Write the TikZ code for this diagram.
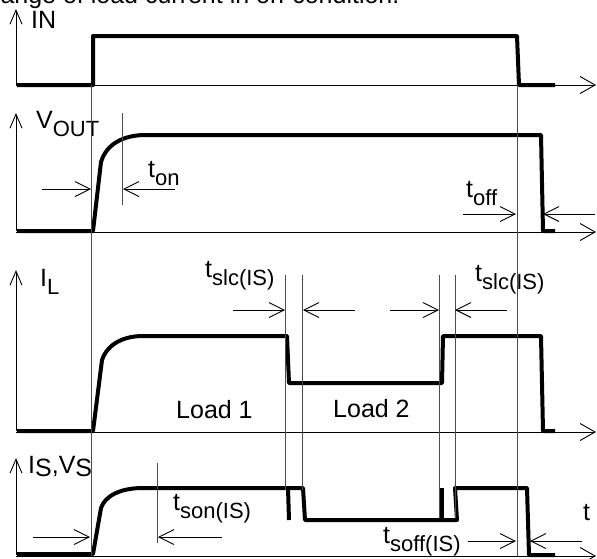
\documentclass[tikz,border=0pt]{standalone}
\usepackage{fontspec}
\setmainfont{Liberation Sans}
\usetikzlibrary{arrows.meta}

\begin{document}
\begin{tikzpicture}[x=1pt,y=-1pt,font=\fontsize{25}{30}\selectfont]
\tikzset{
  signal/.style={black,line width=4pt,line join=round},
  thinline/.style={black!70,line width=0.9pt},
  axis/.style={black,line width=0.9pt,-{Straight Barb[length=15pt,width=17pt]}},
  vaxis/.style={black,line width=0.9pt,-{Straight Barb[length=14pt,width=12pt]}},
  dimarrow/.style={black,line width=0.9pt,-{Straight Barb[length=15pt,width=15pt]}},
  lbl/.style={anchor=base west,inner sep=0pt}
}
% lowered, smaller index text
\newcommand{\sub}[1]{\raisebox{-8pt}{\fontsize{22}{26}\selectfont #1}}
\useasboundingbox (0,0) rectangle (597,558);

% caption line, cut off at the top
\node[lbl] (caption) at (-8,3) {range of load current in on-condition.};

% ------ IN ------
\draw[vaxis] (16,85) -- (16,9);
\node[lbl] (lblIN) at (31,28) {IN};
\draw[axis] (16,85) -- (596,85);
\draw[signal] (17,85) -- (93,85) -- (93,36) -- (517,36) -- (519,85) -- (555,85);

% ------ V_OUT ------
\draw[vaxis] (16,231) -- (16,113);
\node[lbl] (lblVOUT) at (36,128) {V\sub{OUT}};
\draw[axis] (16,232) -- (596,232);
\draw[signal] (17,231) -- (93,231) -- (101,162) .. controls (105,148) and (118,136) .. (143,135)
  -- (541,135) -- (543,231) -- (555,231);

% ------ I_L ------
\draw[vaxis] (16,431) -- (16,270);
\node[lbl] (lblIL) at (40,286) {I\sub{L}};
\draw[axis] (16,432) -- (596,432);
\draw[signal] (17,431) -- (93,431) -- (102,360) .. controls (106,347) and (120,336) .. (143,336)
  -- (287,336) -- (289,383) -- (442,383) -- (443,336) -- (541,336) -- (543,431) -- (555,431);
\node[lbl] (lblloadA) at (176,418) {Load 1};
\node[lbl] (lblloadB) at (333,417) {Load 2};

% ------ I_S, V_S ------
\draw[vaxis] (16,555) -- (16,458);
\node[lbl] (lblIS) at (28,473) {I\raisebox{-3pt}{S},V\raisebox{-3pt}{S}};
\draw[axis] (16,556) -- (596,556);
\draw[signal] (17,554) -- (93,554) -- (101,508) .. controls (105,496) and (120,488) .. (143,488)
  -- (303,488) -- (305,520) -- (457,520) -- (455,488) -- (527,488) -- (529,555) -- (555,555);
\draw[signal] (288,488) -- (289,520);
\draw[signal] (442,520) -- (442,488);
\node[lbl] (lblt) at (583,520) {t};

% ------ time marks ------
\draw[thinline] (91,85) -- (91,556);
\draw[thinline] (517,85) -- (517,556);
\foreach \x/\yend in {285/490, 302/490, 439/518, 455/518}
  \draw[thinline] (\x,275) -- (\x,\yend);
\draw[thinline] (122,113) -- (122,205);
\draw[thinline] (157,463) -- (157,543);

% dimension arrows: from x / to x / y
\foreach \xa/\xb/\y in {42/91/189, 175/123/189, 463/516/214, 595/543/214,
    233/285/310, 355/303/310, 390/439/310, 507/455/310,
    33/90/537, 222/158/537, 468/516/541, 582/530/541}
  \draw[dimarrow] (\xa,\y) -- (\xb,\y);

% timing labels
\node[lbl] (lblton) at (148,177) {t\sub{on}};
\node[lbl] (lbltoff) at (466,197) {t\sub{off}};
\node[lbl] (lblslcA) at (205,277) {t\sub{slc(IS)}};
\node[lbl] (lblslcB) at (475,281) {t\sub{slc(IS)}};
\node[lbl] (lbltson) at (173,510) {t\sub{son(IS)}};
\node[lbl] (lbltsoff) at (383,543) {t\sub{soff(IS)}};
\end{tikzpicture}
\end{document}
